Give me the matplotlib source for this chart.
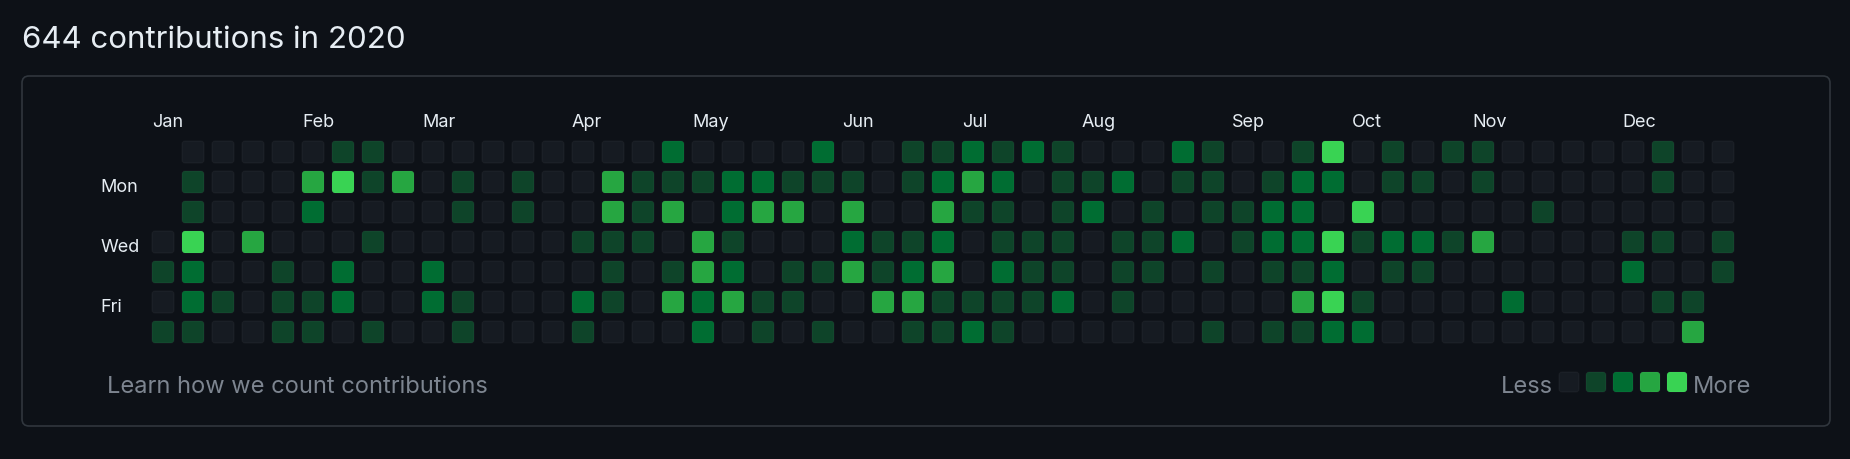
import matplotlib
matplotlib.use("Agg")
import matplotlib.pyplot as plt
from matplotlib.patches import FancyBboxPatch

# contribution level (0-4) per week, Sun..Sat; None = day outside 2020
week_levels = [
    [None, None, None, 0, 1, 0, 1],
    [0, 1, 1, 4, 2, 2, 1],
    [0, 0, 0, 0, 0, 1, 0],
    [0, 0, 0, 3, 0, 0, 0],
    [0, 0, 0, 0, 1, 1, 1],
    [0, 3, 2, 0, 0, 1, 1],
    [1, 4, 0, 0, 2, 2, 0],
    [1, 1, 0, 1, 0, 0, 1],
    [0, 3, 0, 0, 0, 0, 0],
    [0, 0, 0, 0, 2, 2, 0],
    [0, 1, 1, 0, 0, 1, 1],
    [0, 0, 0, 0, 0, 0, 0],
    [0, 1, 1, 0, 0, 0, 0],
    [0, 0, 0, 0, 0, 0, 0],
    [0, 0, 0, 1, 0, 2, 1],
    [0, 3, 3, 1, 1, 1, 0],
    [0, 1, 1, 1, 0, 0, 0],
    [2, 1, 3, 0, 1, 3, 0],
    [0, 1, 0, 3, 3, 2, 2],
    [0, 2, 2, 1, 2, 3, 0],
    [0, 2, 3, 0, 0, 1, 1],
    [0, 1, 3, 0, 1, 1, 0],
    [2, 1, 0, 0, 1, 0, 1],
    [0, 1, 3, 2, 3, 0, 0],
    [0, 0, 0, 1, 1, 3, 0],
    [1, 1, 0, 1, 2, 3, 1],
    [1, 2, 3, 2, 3, 1, 1],
    [2, 3, 1, 0, 0, 1, 2],
    [1, 2, 1, 1, 2, 1, 1],
    [2, 0, 0, 1, 1, 1, 0],
    [1, 1, 1, 1, 1, 2, 0],
    [0, 1, 2, 0, 0, 0, 0],
    [0, 2, 0, 1, 1, 1, 0],
    [0, 0, 1, 1, 1, 0, 0],
    [2, 1, 0, 2, 0, 0, 0],
    [1, 1, 1, 0, 1, 0, 1],
    [0, 0, 1, 1, 0, 0, 0],
    [0, 1, 2, 2, 1, 0, 1],
    [1, 2, 2, 2, 1, 3, 1],
    [4, 2, 0, 4, 2, 4, 2],
    [0, 0, 4, 1, 0, 1, 2],
    [1, 1, 0, 2, 1, 0, 0],
    [0, 1, 0, 2, 1, 0, 0],
    [1, 0, 0, 1, 0, 0, 0],
    [1, 1, 0, 3, 0, 0, 0],
    [0, 0, 0, 0, 0, 2, 0],
    [0, 0, 1, 0, 0, 0, 0],
    [0, 0, 0, 0, 0, 0, 0],
    [0, 0, 0, 0, 0, 0, 0],
    [0, 0, 0, 1, 2, 0, 0],
    [1, 1, 0, 1, 0, 1, 0],
    [0, 0, 0, 0, 0, 1, 3],
    [0, 0, 0, 1, 1, None, None],
]

months = ["Jan", "Feb", "Mar", "Apr", "May", "Jun",
          "Jul", "Aug", "Sep", "Oct", "Nov", "Dec"]
month_weeks = [0, 5, 9, 14, 18, 23, 27, 31, 36, 40, 44, 49]
day_labels = {1: "Mon", 3: "Wed", 5: "Fri"}
level_colors = ["#161b22", "#0e4429", "#006d32", "#26a641", "#39d353"]
title = "644 contributions in 2020"

BG = "#0d1117"
W, H = 1850, 460
plt.rcParams["font.family"] = ["Inter", "DejaVu Sans"]

fig = plt.figure(figsize=(W / 100, H / 100), dpi=100, facecolor=BG)

# background axes in pixel units for the frame and text
bg = fig.add_axes([0, 0, 1, 1])
bg.set_xlim(0, W)
bg.set_ylim(H, 0)
bg.axis("off")
bg.set_facecolor(BG)

bg.text(22, 48, title, color="#e6edf3", fontsize=22.5, va="baseline", ha="left")
bg.add_patch(FancyBboxPatch((22, 77), 1808, 350,
                            boxstyle="round,pad=0,rounding_size=7",
                            facecolor="none", edgecolor="#30363d", linewidth=1.2))
bg.text(107, 393, "Learn how we count contributions", color="#7d8590",
        fontsize=17, va="baseline", ha="left")

# legend
bg.text(1501, 393, "Less", color="#7d8590", fontsize=17, va="baseline", ha="left")
for i, c in enumerate(level_colors):
    bg.add_patch(FancyBboxPatch((1559 + 27 * i, 373), 20, 20,
                                boxstyle="round,pad=0,rounding_size=3",
                                facecolor=c, edgecolor=(1, 1, 1, 0.04), linewidth=0.8))
bg.text(1693, 393, "More", color="#7d8590", fontsize=17, va="baseline", ha="left")

# grid axes: one unit = one week / one day (30 px)
x0, x1 = 152 - 15, 152 + 30 * 53.5
y0, y1 = 142 - 15, 142 + 30 * 7.5
ax = fig.add_axes([x0 / W, 1 - y1 / H, (x1 - x0) / W, (y1 - y0) / H])
ax.set_xlim(-0.5, 53.5)
ax.set_ylim(7.5, -0.5)
ax.axis("off")

size = 22 / 30
for w, week in enumerate(week_levels):
    for d, lvl in enumerate(week):
        if lvl is None:
            continue
        ax.add_patch(FancyBboxPatch((w, d), size, size,
                                    boxstyle="round,pad=0,rounding_size=0.1",
                                    facecolor=level_colors[lvl],
                                    edgecolor=(1, 1, 1, 0.04), linewidth=0.8,
                                    clip_on=False))

for m, w in zip(months, month_weeks):
    ax.text(w, -0.5, m, color="#e6edf3", fontsize=13, ha="left", va="baseline")

for d, lab in day_labels.items():
    ax.text(-1.73, d + 0.67, lab, color="#e6edf3", fontsize=13, ha="left", va="baseline")

fig.savefig("out.png", dpi=100, facecolor=BG)
